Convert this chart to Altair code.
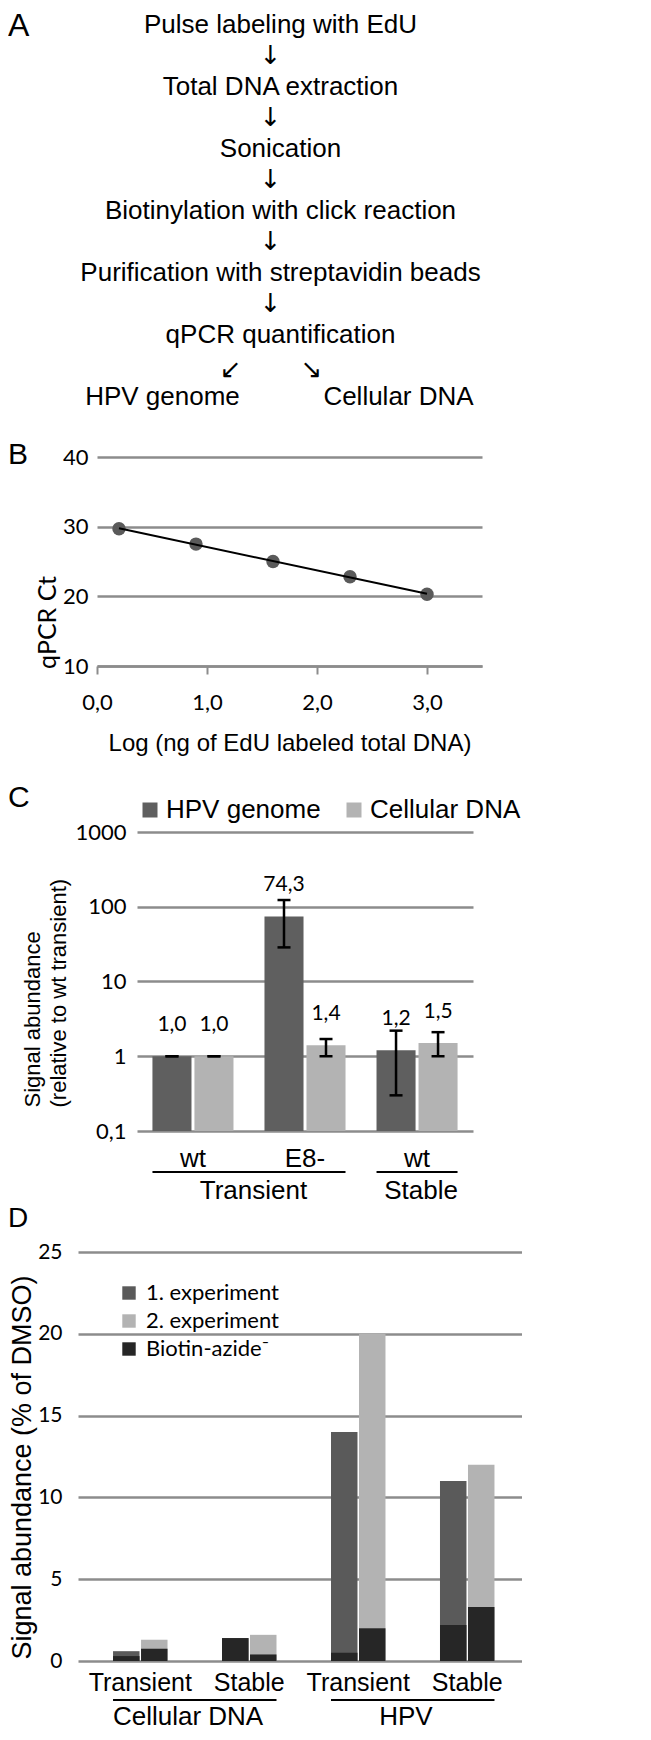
import altair as alt
import pandas as pd

ARIAL = "Liberation Sans"
NUM = "Lato"
ARROW = "DejaVu Sans"
GRID = "#8c8c8c"

# ---------------- data ----------------
panel_letters = ["A", "B", "C", "D"]

# Panel A (flow chart)
steps = [
    "Pulse labeling with EdU",
    "Total DNA extraction",
    "Sonication",
    "Biotinylation with click reaction",
    "Purification with streptavidin beads",
    "qPCR quantification",
]
outputs = ["HPV genome", "Cellular DNA"]

# Panel B (standard curve)
b_log_ng = [0.2, 0.9, 1.6, 2.3, 3.0]
b_ct = [29.7, 27.5, 25.0, 22.8, 20.3]
b_xticks = [0, 1, 2, 3]
b_yticks = [10, 20, 30, 40]

# Panel C (log bars)
c_groups = ["Transient wt", "Transient E8-", "Stable wt"]
c_series = ["HPV genome", "Cellular DNA"]
c_hpv = [1.0, 74.3, 1.2]
c_hpv_lo = [1.0, 28.6, 0.3]
c_hpv_hi = [1.0, 123.0, 2.2]
c_cell = [1.0, 1.4, 1.5]
c_cell_lo = [1.0, 1.0, 1.0]
c_cell_hi = [1.0, 1.7, 2.1]
c_yticks = [0.1, 1, 10, 100, 1000]
c_super = ["Transient", "Stable"]
c_super_first = ["Transient wt", "Stable wt"]
c_super_last = ["Transient E8-", "Stable wt"]

# Panel D (overlaid bars)
d_groups = ["Cellular DNA Transient", "Cellular DNA Stable", "HPV Transient", "HPV Stable"]
d_series = ["1. experiment", "2. experiment"]
d_control = "Biotin-azide\u207b"
d_exp1 = [0.6, 1.4, 14.0, 11.0]
d_exp2 = [1.3, 1.6, 20.0, 12.0]
d_ctrl1 = [0.3, 1.4, 0.5, 2.2]
d_ctrl2 = [0.75, 0.4, 2.0, 3.3]
d_yticks = [0, 5, 10, 15, 20, 25]
d_super = ["Cellular DNA", "HPV"]
d_super_first = ["Cellular DNA Transient", "HPV Transient"]
d_super_last = ["Cellular DNA Stable", "HPV Stable"]

LETTER_X = -70  # every panel shares the same origin; letters sit at the page's left margin


def letter_layer(i, yv, size=30):
    return (alt.Chart(pd.DataFrame({"letter": [panel_letters[i]]}))
            .mark_text(align="left", baseline="alphabetic", font=ARIAL, fontSize=size, color="black")
            .encode(text="letter:N", x=alt.value(LETTER_X), y=alt.value(yv)))


def spacer(h):
    return (alt.Chart(pd.DataFrame({"s": [0]}))
            .mark_rect(opacity=0)
            .encode(x=alt.value(0), x2=alt.value(1), y=alt.value(0), y2=alt.value(1))
            .properties(width=1, height=h))


# ---------------- Panel A ----------------
a_records = []
for i, s in enumerate(steps):
    a_records.append(dict(label=s, row=2 * i, col="center", kind="step"))
    if i < len(steps) - 1:
        a_records.append(dict(label="\u2193", row=2 * i + 1, col="center", kind="down"))
a_records.append(dict(label="\u2199", row=2 * len(steps) - 1, col="center", kind="left"))
a_records.append(dict(label="\u2198", row=2 * len(steps) - 1, col="center", kind="right"))
a_records.append(dict(label=outputs[0], row=2 * len(steps), col="left", kind="step"))
a_records.append(dict(label=outputs[1], row=2 * len(steps), col="right", kind="step"))
a_df = pd.DataFrame(a_records)

a_x = alt.X("col:N", scale=alt.Scale(type="point", domain=["left", "center", "right"],
                                     range=[84.5, 320.5], padding=0), axis=None)
a_y = alt.Y("row:O", scale=alt.Scale(type="point", padding=0.548), axis=None)
a_base = alt.Chart(a_df).encode(x=a_x, y=a_y, text="label:N")
panel_a = alt.layer(
    a_base.transform_filter("datum.kind == 'step'").mark_text(font=ARIAL, fontSize=26, color="black"),
    a_base.transform_filter("datum.kind == 'down'").mark_text(font=ARROW, fontSize=26, color="black", dx=-10),
    a_base.transform_filter("datum.kind == 'left'").mark_text(font=ARROW, fontSize=26, color="black", dx=-50, dy=4),
    a_base.transform_filter("datum.kind == 'right'").mark_text(font=ARROW, fontSize=26, color="black", dx=31, dy=4),
    letter_layer(0, 28, 32),
).properties(width=444, height=406)

# ---------------- Panel B ----------------
b_df = pd.DataFrame({"x": b_log_ng, "y": b_ct})
b_xaxis = alt.Axis(values=b_xticks, labelExpr="replace(format(datum.value, '.1f'), '.', ',')",
                   title="Log (ng of EdU labeled total DNA)", grid=False, domainColor=GRID,
                   domainWidth=2.5, ticks=True, tickColor=GRID, tickWidth=2, tickSize=8,
                   labelPadding=18, labelFont=NUM, labelFontSize=22, labelColor="black",
                   labelFlush=False, titleFont=ARIAL, titleFontSize=24, titleFontWeight="normal",
                   titleColor="black", titlePadding=18)
b_yaxis = alt.Axis(values=b_yticks, title="qPCR Ct", grid=True, gridColor=GRID, gridWidth=2.5,
                   domain=False, ticks=False, offset=-19, labelPadding=9, labelFont=NUM,
                   labelFontSize=22, labelColor="black", titleFont=NUM, titleFontSize=25,
                   titleFontWeight="normal", titleColor="black", titlePadding=2, titleY=165)
b_base = alt.Chart(b_df).encode(
    x=alt.X("x:Q", scale=alt.Scale(domain=[0, 3.5], nice=False, range=[19, 404]), axis=b_xaxis),
    y=alt.Y("y:Q", scale=alt.Scale(domain=[10, 40], nice=False), axis=b_yaxis),
)
panel_b = alt.layer(
    b_base.mark_circle(size=180, color="#5a5a5a", opacity=1),
    b_base.transform_regression("x", "y").mark_line(color="black", strokeWidth=2),
    letter_layer(1, 7),
).properties(width=404, height=209)

# ---------------- Panel C ----------------
c_records = []
for i, g in enumerate(c_groups):
    c_records.append(dict(group=g, series=c_series[0], value=c_hpv[i], lo=c_hpv_lo[i], hi=c_hpv_hi[i]))
    c_records.append(dict(group=g, series=c_series[1], value=c_cell[i], lo=c_cell_lo[i], hi=c_cell_hi[i]))
c_df = pd.DataFrame(c_records)

c_xaxis = alt.Axis(title=None, labelExpr="peek(split(datum.label, ' '))", domain=False, ticks=False,
                   labelPadding=14, labelFont=ARIAL, labelFontSize=26, labelAngle=0, labelColor="black")
c_xscale = alt.Scale(type="band", domain=c_groups, paddingInner=0.277, paddingOuter=0.138, range=[59, 395])
c_x = alt.X("group:N", scale=c_xscale, axis=c_xaxis)
c_yscale = alt.Scale(type="log", domain=[0.1, 1000], nice=False)
c_yaxis = alt.Axis(values=c_yticks, labelExpr="replace(format(datum.value, '~g'), '.', ',')",
                   title=["Signal abundance", "(relative to wt transient)"], grid=True, gridColor=GRID,
                   gridWidth=2.5, domain=False, ticks=False, offset=-59, labelPadding=11, labelFont=NUM,
                   labelFontSize=22, labelColor="black", titleFont=ARIAL, titleFontSize=22,
                   titleFontWeight="normal", titleColor="black", titlePadding=4, titleAlign="left",
                   titleY=275, titleLineHeight=26)
c_color = alt.Color("series:N", scale=alt.Scale(domain=c_series, range=["#5f5f5f", "#b3b3b3"]),
                    legend=alt.Legend(title=None, orient="none", legendX=59, legendY=-35,
                                      direction="horizontal", symbolType="square", symbolSize=225,
                                      symbolStrokeWidth=0, labelFont=ARIAL, labelFontSize=26,
                                      labelColor="black", labelOffset=3, columnPadding=20,
                                      padding=0, labelLimit=400))
c_shift = {c_series[0]: -21, c_series[1]: 21}
c_layers = []
for s in c_series:
    sb = alt.Chart(c_df).transform_filter(alt.datum.series == s)
    o = c_shift[s]
    c_layers += [
        sb.mark_bar(width={"band": 0.482}, xOffset=o).encode(
            x=c_x, y=alt.Y("value:Q", scale=c_yscale, axis=c_yaxis), y2=alt.datum(c_yticks[0]), color=c_color),
        sb.mark_rule(color="black", strokeWidth=2.5, xOffset=o).encode(
            x=c_x, y=alt.Y("lo:Q", scale=c_yscale, axis=c_yaxis), y2=alt.Y2("hi")),
        sb.mark_tick(color="black", size=13, thickness=2.5, opacity=1, xOffset=o).encode(
            x=c_x, y=alt.Y("lo:Q", scale=c_yscale, axis=c_yaxis)),
        sb.mark_tick(color="black", size=13, thickness=2.5, opacity=1, xOffset=o).encode(
            x=c_x, y=alt.Y("hi:Q", scale=c_yscale, axis=c_yaxis)),
        sb.transform_calculate(lbl="replace(format(datum.value, '.1f'), '.', ',')")
        .mark_text(font=NUM, fontSize=21, color="black", dy=-31, xOffset=o)
        .encode(x=c_x, y=alt.Y("value:Q", scale=c_yscale, axis=c_yaxis), text="lbl:N"),
    ]
c_sup_df = pd.DataFrame({"name": c_super, "first": c_super_first, "last": c_super_last})
c_layers.append(
    alt.Chart(c_sup_df).mark_rule(color="black", strokeWidth=2).encode(
        x=alt.X("first:N", bandPosition=0, scale=c_xscale, axis=c_xaxis),
        x2=alt.X2("last", bandPosition=1), y=alt.value(340)))
c_sup_style = {"Transient": (0, -11), "Stable": (0.5, 4)}
for name in c_super:
    bp, ddx = c_sup_style[name]
    c_layers.append(
        alt.Chart(c_sup_df).transform_filter(alt.datum.name == name)
        .mark_text(font=ARIAL, fontSize=26, color="black", baseline="alphabetic", dx=ddx)
        .encode(x=alt.X("last:N", bandPosition=bp, scale=c_xscale, axis=c_xaxis),
                y=alt.value(367), text="name:N"))
c_layers.append(letter_layer(2, -24.7))
panel_c = alt.layer(*c_layers).properties(width=395, height=299)

# ---------------- Panel D ----------------
d_records = []
for i, g in enumerate(d_groups):
    d_records.append(dict(group=g, series=d_series[0], value=d_exp1[i], ctrl=d_ctrl1[i]))
    d_records.append(dict(group=g, series=d_series[1], value=d_exp2[i], ctrl=d_ctrl2[i]))
d_df = pd.DataFrame(d_records)

d_xaxis = alt.Axis(title=None, labelExpr="peek(split(datum.label, ' '))", domain=False, ticks=False,
                   labelPadding=9, labelFont=ARIAL, labelFontSize=25, labelAngle=0, labelColor="black")
d_xscale = alt.Scale(type="band", domain=d_groups, paddingInner=0.5, paddingOuter=0.287, align=0.56)
d_x = alt.X("group:N", scale=d_xscale, axis=d_xaxis)
d_yscale = alt.Scale(domain=[0, 25], nice=False)
d_yaxis = alt.Axis(values=d_yticks, title="Signal abundance (% of DMSO)", grid=True, gridColor=GRID,
                   gridWidth=2.5, domain=False, ticks=False, labelPadding=16, labelFont=NUM,
                   labelFontSize=21, labelColor="black", titleFont=ARIAL, titleFontSize=27,
                   titleFontWeight="normal", titleColor="black", titlePadding=1, titleY=215)
d_cscale = alt.Scale(domain=d_series + [d_control], range=["#5a5a5a", "#b3b3b3", "#262626"])
d_legend = alt.Legend(title=None, orient="none", legendX=40, legendY=30, direction="vertical",
                      symbolType="square", symbolSize=180, symbolStrokeWidth=0, labelFont=NUM,
                      labelFontSize=22, labelColor="black", labelOffset=6, rowPadding=6, padding=0,
                      labelLimit=400)
d_shift = {d_series[0]: -14, d_series[1]: 14}
d_layers = []
for s in d_series:
    sb = alt.Chart(d_df).transform_filter(alt.datum.series == s)
    o = d_shift[s]
    d_layers += [
        sb.mark_bar(width={"band": 0.486}, xOffset=o).encode(
            x=d_x, y=alt.Y("value:Q", scale=d_yscale, axis=d_yaxis),
            color=alt.Color("series:N", scale=d_cscale, legend=d_legend)),
        sb.transform_calculate(cseries=f"'{d_control}'").mark_bar(width={"band": 0.486}, xOffset=o).encode(
            x=d_x, y=alt.Y("ctrl:Q", scale=d_yscale, axis=d_yaxis),
            color=alt.Color("cseries:N", scale=d_cscale, legend=d_legend)),
    ]
d_sup_df = pd.DataFrame({"name": d_super, "first": d_super_first, "last": d_super_last})
d_layers += [
    alt.Chart(d_sup_df).mark_rule(color="black", strokeWidth=2).encode(
        x=alt.X("first:N", bandPosition=0, scale=d_xscale, axis=d_xaxis),
        x2=alt.X2("last", bandPosition=1), y=alt.value(448)),
    alt.Chart(d_sup_df).mark_text(font=ARIAL, fontSize=26, color="black", baseline="alphabetic", dx=-34)
    .encode(x=alt.X("last:N", bandPosition=0, scale=d_xscale, axis=d_xaxis), y=alt.value(473), text="name:N"),
    letter_layer(3, -25.3, 28),
]
panel_d = alt.layer(*d_layers).properties(width=444, height=409)

chart = (alt.vconcat(panel_a, spacer(26), panel_b, spacer(28), panel_c, panel_d, spacing=0)
         .resolve_scale(color="independent")
         .resolve_legend(color="independent")
         .properties(padding=0)
         .configure_view(strokeWidth=0))

chart.save("out.html", embed_options={"renderer": "svg", "actions": False})
